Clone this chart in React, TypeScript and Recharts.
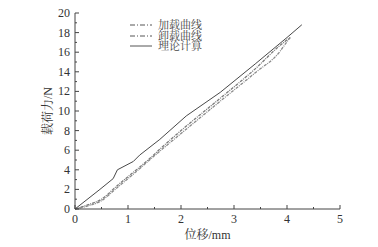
import React from "react"
import { LineChart, Line, XAxis, YAxis } from "recharts"

// 位移 (mm) / 载荷力 (N)
const dispTheory = [0, 0.47, 0.72, 0.8, 1.1, 1.22, 1.6, 2.1, 2.74, 3.4, 4.0, 4.28]
const forceTheory = [0, 2.0, 3.1, 4.0, 4.85, 5.5, 7.1, 9.5, 11.9, 14.8, 17.5, 18.8]

const dispLoad = [0, 0.2, 0.5, 0.8, 1.0, 1.42, 1.6, 2.0, 2.74, 3.4, 3.87, 4.06]
const forceLoad = [0, 0.35, 1.0, 2.4, 3.3, 5.2, 6.1, 8.0, 11.3, 14.3, 16.7, 17.5]

const dispUnload = [4.06, 3.95, 3.87, 3.4, 2.74, 2.0, 1.6, 1.0, 0.8, 0.5, 0.2, 0]
const forceUnload = [17.5, 16.7, 16.1, 13.9, 11.0, 7.7, 5.9, 3.1, 2.2, 0.85, 0.25, 0]

const xTicks = [0, 0.5, 1, 1.5, 2, 2.5, 3, 3.5, 4, 4.5, 5]
const yTicks = [0, 1, 2, 3, 4, 5, 6, 7, 8, 9, 10, 11, 12, 13, 14, 15, 16, 17, 18, 19, 20]

const legendNames = ["加载曲线", "卸载曲线", "理论计算"]

const toPoints = (xs: number[], ys: number[]) => xs.map((x, i) => ({ x, y: ys[i] }))

const theoryData = toPoints(dispTheory, forceTheory)
const loadData = toPoints(dispLoad, forceLoad)
const unloadData = toPoints(dispUnload, forceUnload)

const FONT = "'Liberation Serif', 'Noto Serif CJK SC', 'Noto Sans CJK SC', serif"
const AXIS = "#444"
const DASHDOT = "3 1 1 1"
const LEGEND_DASH = "5 2 1 2"

function XTick(props: any) {
  const { x, y, payload } = props
  const v = payload.value
  const major = Number.isInteger(v)
  return (
    <g>
      <line x1={x} y1={y} x2={x} y2={y - (major ? 4 : 2)} stroke={AXIS} strokeWidth={1} />
      {major && (
        <text x={x} y={y + 14} textAnchor="middle" fontSize={12} fill="#333" fontFamily={FONT}>
          {v}
        </text>
      )}
    </g>
  )
}

function YTick(props: any) {
  const { x, y, payload } = props
  const v = payload.value
  const major = v % 2 === 0
  return (
    <g>
      <line x1={x} y1={y} x2={x + (major ? 4 : 2)} y2={y} stroke={AXIS} strokeWidth={1} />
      {major && (
        <text x={x - 5} y={y + 4} textAnchor="end" fontSize={12} fill="#333" fontFamily={FONT}>
          {v}
        </text>
      )}
    </g>
  )
}

function LegendBox() {
  const dashes = [LEGEND_DASH, LEGEND_DASH, undefined]
  return (
    <div style={{ position: "absolute", left: 128, top: 20, fontFamily: FONT, fontSize: 11, color: "#444" }}>
      {legendNames.map((name, i) => (
        <div key={name} style={{ display: "flex", alignItems: "center", height: 10.5 }}>
          <svg width={26} height={10}>
            <line x1={2} y1={5} x2={24} y2={5} stroke="#555" strokeWidth={1} strokeDasharray={dashes[i]} />
          </svg>
          <span style={{ marginLeft: 4, lineHeight: "10px" }}>{name}</span>
        </div>
      ))}
    </div>
  )
}

export default function App() {
  return (
    <div style={{ position: "absolute", left: 0, top: 0, width: 378, height: 247, background: "#fff" }}>
      <LineChart width={378} height={247} margin={{ top: 13, right: 38, bottom: 2, left: 0 }}>
        <XAxis
          type="number"
          dataKey="x"
          domain={[0, 5]}
          ticks={xTicks}
          interval={0}
          tickSize={0}
          tickMargin={0}
          tickLine={false}
          tick={<XTick />}
          stroke={AXIS}
          height={36}
          allowDuplicatedCategory={false}
          label={{ value: "位移/mm", position: "insideBottom", offset: 6, fontSize: 12, fill: "#333", fontFamily: FONT }}
        />
        <YAxis
          type="number"
          dataKey="y"
          domain={[0, 20]}
          ticks={yTicks}
          interval={0}
          tickSize={0}
          tickMargin={0}
          tickLine={false}
          tick={<YTick />}
          stroke={AXIS}
          width={75}
          label={{ value: "载荷力/N", angle: -90, position: "center", dx: 10, fontSize: 12, fill: "#333", fontFamily: FONT }}
        />
        <Line data={loadData} dataKey="y" name="加载曲线" type="monotone" stroke="#7a7a7a" strokeWidth={1.3} strokeDasharray={DASHDOT} dot={false} isAnimationActive={false} />
        <Line data={unloadData} dataKey="y" name="卸载曲线" type="monotone" stroke="#8a8a8a" strokeWidth={1.3} strokeDasharray={DASHDOT} dot={false} isAnimationActive={false} />
        <Line data={theoryData} dataKey="y" name="理论计算" type="linear" stroke="#333" strokeWidth={0.9} dot={false} isAnimationActive={false} />
      </LineChart>
      <LegendBox />
    </div>
  )
}
